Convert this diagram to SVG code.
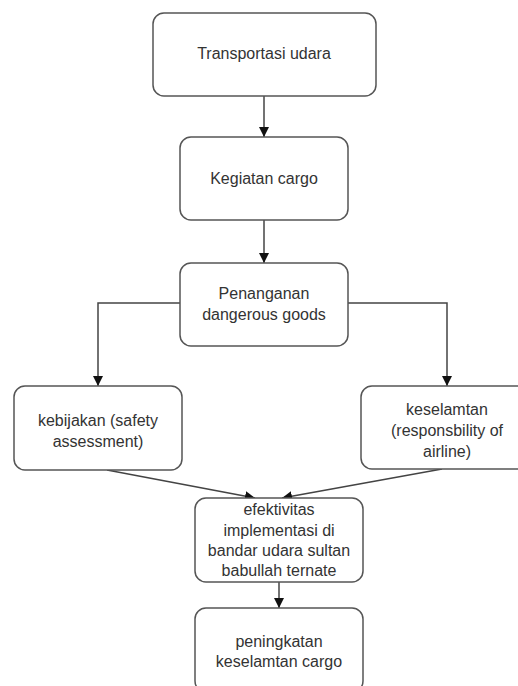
<svg xmlns="http://www.w3.org/2000/svg" width="518" height="686" viewBox="0 0 518 686">
<defs>
<style>
.box{fill:#fff;stroke:#555;stroke-width:1.5}
.lbl{font-family:"Liberation Sans",Arial,sans-serif;font-size:16px;fill:#333;text-anchor:middle}
.edge{fill:none;stroke:#444;stroke-width:1.5}
</style>
<marker id="ah" viewBox="0 0 10 10" refX="10" refY="5" markerWidth="10" markerHeight="10" markerUnits="userSpaceOnUse" orient="auto">
<path d="M0,0 L10,5 L0,10 Z" fill="#111"/>
</marker>
</defs>
<rect width="518" height="686" fill="#fff"/>
<g id="connectors">
<path class="edge" d="M264,96 V137" marker-end="url(#ah)"/>
<path class="edge" d="M264,220 V263" marker-end="url(#ah)"/>
<path class="edge" d="M180,303 H98 V386" marker-end="url(#ah)"/>
<path class="edge" d="M348,303 H447 V386" marker-end="url(#ah)"/>
<path class="edge" d="M107,470 L255,498" marker-end="url(#ah)"/>
<path class="edge" d="M442,469 L282,498" marker-end="url(#ah)"/>
<path class="edge" d="M279,582 V608" marker-end="url(#ah)"/>
</g>
<g id="n1"><rect class="box" x="153" y="13" width="223" height="83" rx="11"/><text class="lbl" x="264" y="59">Transportasi udara</text></g>
<g id="n2"><rect class="box" x="180" y="137" width="168" height="83" rx="11"/><text class="lbl" x="264" y="184">Kegiatan cargo</text></g>
<g id="n3"><rect class="box" x="180" y="263" width="168" height="83" rx="11"/><text class="lbl" x="264" y="299">Penanganan</text><text class="lbl" x="264" y="320">dangerous goods</text></g>
<g id="n4"><rect class="box" x="14" y="386" width="168" height="84" rx="11"/><text class="lbl" x="98" y="426">kebijakan (safety</text><text class="lbl" x="98" y="447">assessment)</text></g>
<g id="n5"><rect class="box" x="361" y="386" width="170" height="83" rx="11"/><text class="lbl" x="447" y="415">keselamtan</text><text class="lbl" x="447" y="436">(responsbility of</text><text class="lbl" x="447" y="457">airline)</text></g>
<g id="n6"><rect class="box" x="195" y="498" width="168" height="84" rx="11"/><text class="lbl" x="279" y="515">efektivitas</text><text class="lbl" x="279" y="536">implementasi di</text><text class="lbl" x="279" y="556">bandar udara sultan</text><text class="lbl" x="279" y="576">babullah ternate</text></g>
<g id="n7"><rect class="box" x="195" y="608" width="168" height="84" rx="11"/><text class="lbl" x="279" y="647">peningkatan</text><text class="lbl" x="279" y="667">keselamtan cargo</text></g>
</svg>
